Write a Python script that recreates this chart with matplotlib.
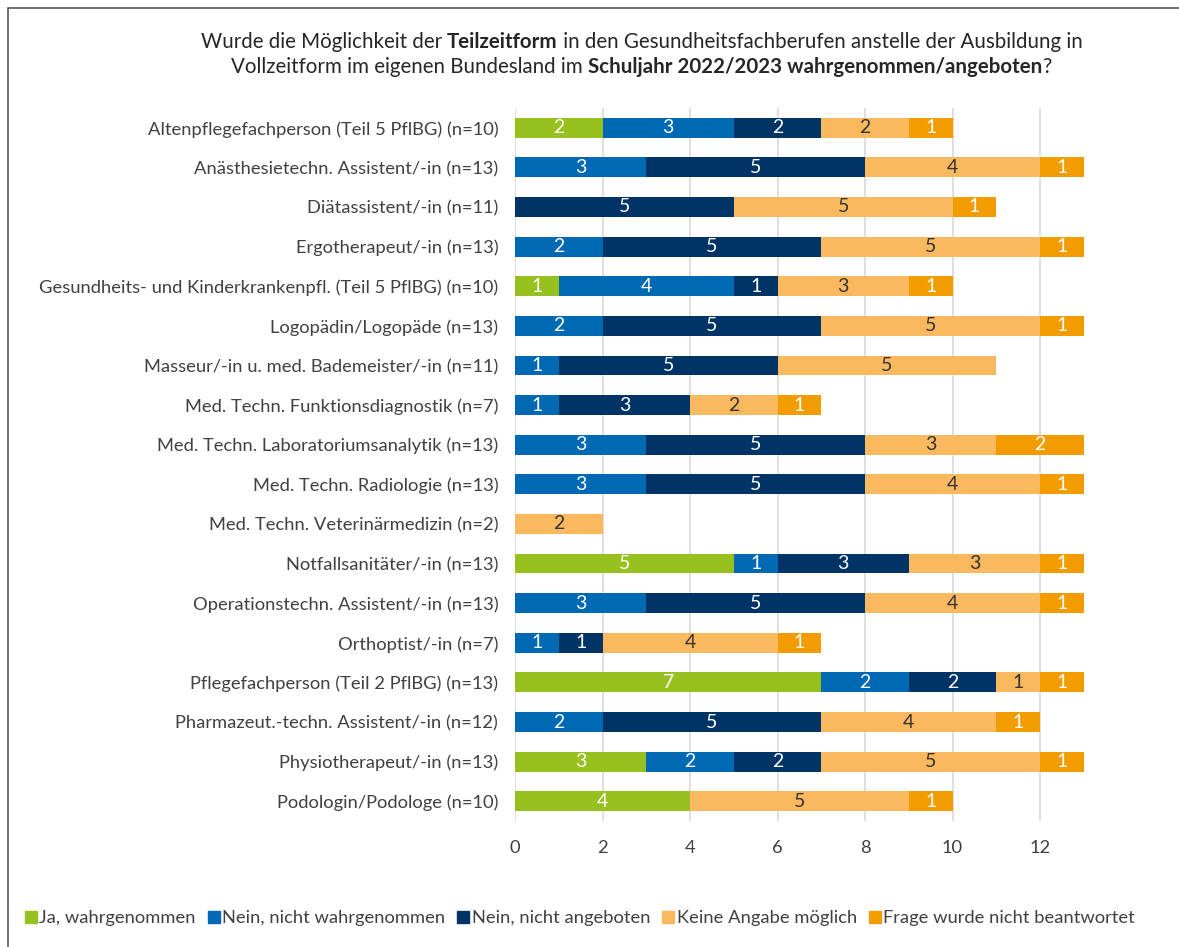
import numpy as np
import matplotlib
matplotlib.use("Agg")
import matplotlib.pyplot as plt
from matplotlib.lines import Line2D
from matplotlib.patches import Rectangle

plt.rcParams['font.family'] = ['Lato', 'DejaVu Sans']

categories = [
    "Altenpflegefachperson (Teil 5 PflBG) (n=10)",
    "Anästhesietechn. Assistent/-in (n=13)",
    "Diätassistent/-in (n=11)",
    "Ergotherapeut/-in (n=13)",
    "Gesundheits- und Kinderkrankenpfl. (Teil 5 PflBG) (n=10)",
    "Logopädin/Logopäde (n=13)",
    "Masseur/-in u. med. Bademeister/-in (n=11)",
    "Med. Techn. Funktionsdiagnostik (n=7)",
    "Med. Techn. Laboratoriumsanalytik (n=13)",
    "Med. Techn. Radiologie (n=13)",
    "Med. Techn. Veterinärmedizin (n=2)",
    "Notfallsanitäter/-in (n=13)",
    "Operationstechn. Assistent/-in (n=13)",
    "Orthoptist/-in (n=7)",
    "Pflegefachperson (Teil 2 PflBG) (n=13)",
    "Pharmazeut.-techn. Assistent/-in (n=12)",
    "Physiotherapeut/-in (n=13)",
    "Podologin/Podologe (n=10)",
]

series_names = ["Ja, wahrgenommen", "Nein, nicht wahrgenommen", "Nein, nicht angeboten",
                "Keine Angabe möglich", "Frage wurde nicht beantwortet"]

ja_wahrgenommen = [2, 0, 0, 0, 1, 0, 0, 0, 0, 0, 0, 5, 0, 0, 7, 0, 3, 4]
nein_nicht_wahrgenommen = [3, 3, 0, 2, 4, 2, 1, 1, 3, 3, 0, 1, 3, 1, 2, 2, 2, 0]
nein_nicht_angeboten = [2, 5, 5, 5, 1, 5, 5, 3, 5, 5, 0, 3, 5, 1, 2, 5, 2, 0]
keine_angabe = [2, 4, 5, 5, 3, 5, 5, 2, 3, 4, 2, 3, 4, 4, 1, 4, 5, 5]
nicht_beantwortet = [1, 1, 1, 1, 1, 1, 0, 1, 2, 1, 0, 1, 1, 1, 1, 1, 1, 1]

x_ticks = [0, 2, 4, 6, 8, 10, 12]

colors = ["#97c11f", "#0069b4", "#003466", "#fbb95f", "#f39c00"]
label_colors = ["white", "white", "white", "#333333", "white"]
text_color = "#404040"

fig = plt.figure(figsize=(11.79, 9.47), dpi=100)
ax = fig.add_axes([0.4368, 0.133, 0.4825, 0.753])

y = np.arange(len(categories))
left = np.zeros(len(categories))
all_series = [ja_wahrgenommen, nein_nicht_wahrgenommen, nein_nicht_angeboten,
              keine_angabe, nicht_beantwortet]
for vals, col, lcol, name in zip(all_series, colors, label_colors, series_names):
    vals = np.array(vals, dtype=float)
    bars = ax.barh(y, vals, left=left, height=0.5, color=col, label=name, zorder=3)
    ax.bar_label(bars, labels=[str(int(v)) if v > 0 else "" for v in vals],
                 label_type="center", color=lcol, fontsize=14)
    left += vals

ax.set_ylim(len(categories) - 0.5, -0.5)
ax.set_xlim(0, 13)
ax.set_xticks(x_ticks)
ax.set_yticks(y)
ax.set_yticklabels(categories)
ax.tick_params(axis="both", length=0, colors=text_color, labelsize=13.2)
ax.tick_params(axis="y", pad=12)
ax.tick_params(axis="x", pad=14)
ax.grid(axis="x", color="#d9d9d9", linewidth=1.2, zorder=0)
for s in ax.spines.values():
    s.set_visible(False)

# title with bold parts
def rich_line(parts, xc, yc, size=14.8):
    fig.canvas.draw()
    r = fig.canvas.get_renderer()
    texts = []
    widths = []
    for txt, bold in parts:
        t = fig.text(0, yc, txt, fontsize=size, color="#262626",
                     fontweight="bold" if bold else "normal", va="center", ha="left")
        bb = t.get_window_extent(renderer=r)
        texts.append(t)
        widths.append(bb.width / fig.bbox.width)
    total = sum(widths)
    x = xc - total / 2
    for t, w in zip(texts, widths):
        t.set_x(x)
        x += w

rich_line([("Wurde die Möglichkeit der ", False), ("Teilzeitform", True),
           (" in den Gesundheitsfachberufen anstelle der Ausbildung in", False)],
          0.544, 1 - 42 / 947)
rich_line([("Vollzeitform im eigenen Bundesland im ", False),
           ("Schuljahr 2022/2023 wahrgenommen/angeboten", True), ("?", False)],
          0.544, 1 - 67 / 947)

handles = [Line2D([], [], marker="s", linestyle="", color=c, markersize=8) for c in colors]
fig.legend(handles, series_names, loc="center left", bbox_to_anchor=(0.008, 1 - 918 / 947),
           ncol=5, frameon=False, fontsize=13.2, handlelength=0.5, handletextpad=0.2,
           columnspacing=0.75, labelcolor=text_color)

fig.patches.append(Rectangle((8 / 1179, -0.01), 1.1, 1 - 8 / 947 + 0.01,
                             transform=fig.transFigure, fill=False,
                             edgecolor="#595959", linewidth=1.2))

fig.savefig("out.png", dpi=100)
